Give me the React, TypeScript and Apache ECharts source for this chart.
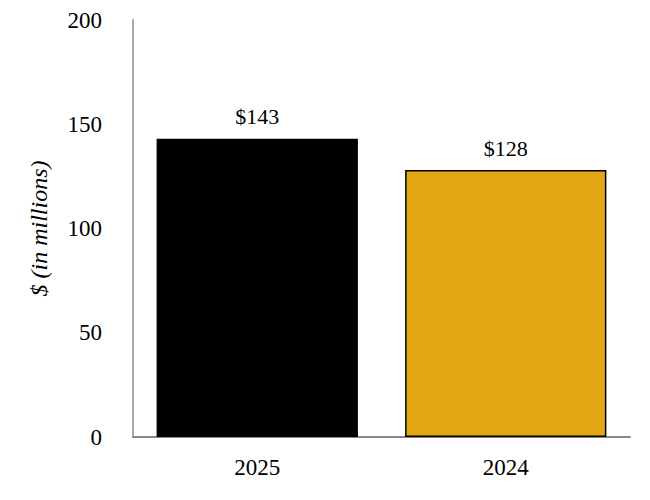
import React, { useEffect, useRef } from "react";
import * as echarts from "echarts";

const categories = ["2025", "2024"];
const values = [143, 128];
const barColors = ["#000000", "#E3A615"];
const yTicks = { min: 0, max: 200, interval: 50 };

export default function App() {
  const ref = useRef<HTMLDivElement>(null);
  useEffect(() => {
    const chart = echarts.init(ref.current!, null, { renderer: "svg" });
    const font = "'Liberation Serif', 'Times New Roman', serif";
    chart.setOption({
      animation: false,
      textStyle: { fontFamily: font },
      grid: { left: 133, right: 20, top: 20, bottom: 63 },
      xAxis: {
        type: "category",
        data: categories,
        axisLine: { lineStyle: { color: "#888888", width: 2 } },
        axisTick: { show: false },
        axisLabel: { color: "#000", fontSize: 23, fontFamily: font, margin: 19 },
      },
      yAxis: {
        type: "value",
        min: yTicks.min,
        max: yTicks.max,
        interval: yTicks.interval,
        name: "$ (in millions)",
        nameLocation: "middle",
        nameGap: 82,
        nameTextStyle: { color: "#000", fontSize: 24, fontStyle: "italic", fontFamily: font },
        axisLine: { show: true, lineStyle: { color: "#aaaaaa", width: 2 } },
        axisTick: { show: false },
        splitLine: { show: false },
        axisLabel: { color: "#000", fontSize: 23, fontFamily: font, margin: 31 },
      },
      series: [
        {
          type: "bar",
          barWidth: "81%",
          data: values.map((v, i) => ({
            value: v,
            itemStyle: {
              color: barColors[i],
              borderColor: "#000",
              borderWidth: 1.5,
            },
          })),
          label: {
            show: true,
            position: "top",
            distance: 11,
            color: "#000",
            fontSize: 22,
            fontFamily: font,
            formatter: (p: any) => "$" + p.value,
          },
        },
      ],
    });
    return () => chart.dispose();
  }, []);
  return (
    <div
      ref={ref}
      style={{ position: "absolute", left: 0, top: 0, width: 650, height: 500 }}
    />
  );
}
